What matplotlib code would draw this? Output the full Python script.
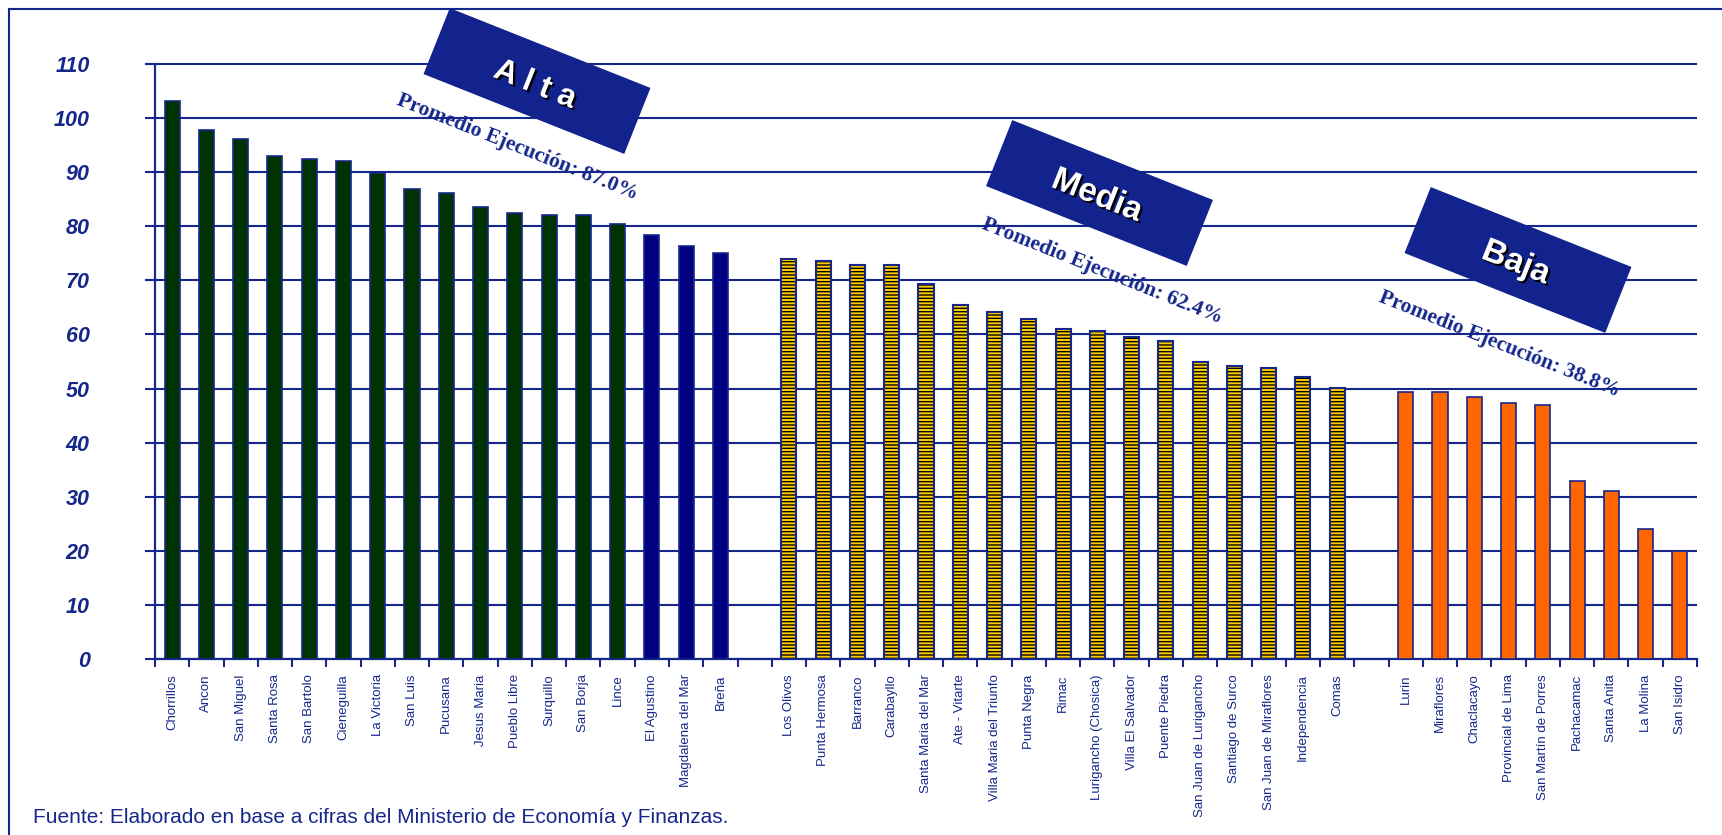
import matplotlib
matplotlib.use('Agg')
import matplotlib.pyplot as plt
from matplotlib.transforms import Affine2D
from matplotlib.patches import Rectangle
from matplotlib.lines import Line2D
import matplotlib.patheffects as pe
import numpy as np

# ---------------- data ----------------
alta_names = ['Chorrillos', 'Ancon', 'San Miguel', 'Santa Rosa', 'San Bartolo', 'Cieneguilla',
              'La Victoria', 'San Luis', 'Pucusana', 'Jesus Maria', 'Pueblo Libre', 'Surquillo',
              'San Borja', 'Lince', 'El Agustino', 'Magdalena del Mar', 'Breña']
alta_values = [103.1, 97.8, 96.2, 93.0, 92.5, 92.1, 89.9, 86.9, 86.1, 83.6, 82.4, 82.0,
               82.0, 80.4, 78.3, 76.3, 75.1]
media_names = ['Los Olivos', 'Punta Hermosa', 'Barranco', 'Carabayllo', 'Santa Maria del Mar',
               'Ate - Vitarte', 'Villa Maria del Triunfo', 'Punta Negra', 'Rimac',
               'Lurigancho (Chosica)', 'Villa El Salvador', 'Puente Piedra',
               'San Juan de Lurigancho', 'Santiago de Surco', 'San Juan de Miraflores',
               'Independencia', 'Comas']
media_values = [73.9, 73.5, 72.9, 72.9, 69.4, 65.4, 64.1, 62.9, 61.1, 60.7, 59.5, 58.7,
                55.0, 54.2, 53.8, 52.2, 50.1]
baja_names = ['Lurin', 'Miraflores', 'Chaclacayo', 'Provincial de Lima', 'San Martín de Porres',
              'Pachacamac', 'Santa Anita', 'La Molina', 'San Isidro']
baja_values = [49.3, 49.3, 48.5, 47.3, 46.9, 32.9, 31.1, 24.0, 19.9]
group_titles = ['A l t a', 'Media', 'Baja']
group_averages = [87.0, 62.4, 38.8]
y_ticks = [0, 10, 20, 30, 40, 50, 60, 70, 80, 90, 100, 110]
footer = 'Fuente: Elaborado en base a cifras del Ministerio de Economía y Finanzas.'

# ---------------- style ----------------
W, H, DPI = 1722, 835, 100
BLUE = '#16278C'
BOXC = '#12238D'
GREEN = '#003300'
NAVY = '#000080'
YELLOW = '#FFCC00'
ORANGE = '#FF6600'
N_NAVY = 3
BW = 0.44
plt.rcParams['hatch.linewidth'] = 1.0

fig = plt.figure(figsize=(W / DPI, H / DPI), dpi=DPI)
x0, x1, y0 = 155, 1697, 659
unit = (659 - 64) / 110.0
ytop = y0 - 111 * unit
ax = fig.add_axes([x0 / W, 1 - y0 / H, (x1 - x0) / W, (y0 - ytop) / H])

pos_alta = np.arange(len(alta_names))
pos_media = pos_alta[-1] + 2 + np.arange(len(media_names))
pos_baja = pos_media[-1] + 2 + np.arange(len(baja_names))

alta_colors = [GREEN] * (len(alta_names) - N_NAVY) + [NAVY] * N_NAVY
ax.bar(pos_alta, alta_values, width=BW, color=alta_colors, edgecolor=BLUE, linewidth=1.2, zorder=3)
ax.bar(pos_media, media_values, width=BW, color=YELLOW, edgecolor='black', hatch='-----',
       linewidth=0, zorder=3)
ax.bar(pos_media, media_values, width=BW, fill=False, edgecolor=BLUE, linewidth=1.5, zorder=4)
ax.bar(pos_baja, baja_values, width=BW, color=ORANGE, edgecolor=BLUE, linewidth=1.2, zorder=3)

n_total = pos_baja[-1] + 1
ax.set_xlim(-0.5, n_total - 0.5)
ax.set_ylim(0, 111)
for s in ['top', 'right']:
    ax.spines[s].set_visible(False)
for s in ['left', 'bottom']:
    ax.spines[s].set_color(BLUE)
    ax.spines[s].set_linewidth(1.6)
ax.spines['left'].set_bounds(0, 110)

ax.set_yticks(y_ticks)
ax.set_yticklabels([str(v) for v in y_ticks], fontsize=15.5, fontweight='bold', fontstyle='italic',
                   family=['Liberation Sans', 'DejaVu Sans'], color=BLUE)
ax.tick_params(axis='y', direction='out', length=7, width=1.5, color=BLUE, pad=40)
ax.yaxis.grid(True, color=BLUE, linewidth=1.5)
ax.set_axisbelow(True)

all_labels = [''] * n_total
for p, n in zip(list(pos_alta) + list(pos_media) + list(pos_baja), alta_names + media_names + baja_names):
    all_labels[p] = n
ax.set_xticks(np.arange(n_total))
ax.set_xticklabels(all_labels, rotation=90, fontsize=9.5, color=BLUE,
                   family=['Liberation Sans Narrow', 'Liberation Sans', 'DejaVu Sans'])
ax.tick_params(axis='x', which='major', length=0, pad=11)
ax.set_xticks(np.arange(-0.5, n_total, 1.0), minor=True)
ax.tick_params(axis='x', which='minor', direction='out', length=6, width=1.5, color=BLUE)

# ---------------- annotations ----------------
ANG = -21.7
box_centers = [(537, 81), (1099.5, 193), (1518, 260)]
title_centers = [(535, 85), (1097, 196), (1516, 263)]
title_sizes = [23, 24, 24]
avg_centers = [(517, 147), (1102, 271), (1499, 344)]
for i in range(3):
    cx, cy = box_centers[i]
    tr = Affine2D().rotate_deg(ANG).translate(cx, H - cy).scale(1.0 / DPI) + fig.dpi_scale_trans
    fig.add_artist(Rectangle((-108, -35.5), 216, 71, transform=tr, facecolor=BOXC,
                             edgecolor='none', zorder=10))
    tx, ty = title_centers[i]
    fig.text(tx / W, 1 - ty / H, group_titles[i], rotation=ANG, rotation_mode='anchor',
             ha='center', va='center', fontsize=title_sizes[i], fontweight='bold', color='white',
             family=['Liberation Sans', 'DejaVu Sans'], zorder=11,
             path_effects=[pe.SimplePatchShadow(offset=(1.5, -1.5), shadow_rgbFace='black', alpha=1.0),
                           pe.Normal()])
    ax_, ay_ = avg_centers[i]
    fig.text(ax_ / W, 1 - ay_ / H, 'Promedio Ejecución: %.1f%%' % group_averages[i],
             rotation=ANG, rotation_mode='anchor', ha='center', va='center', fontsize=15.5,
             fontweight='bold', color=BLUE, family=['Liberation Serif', 'DejaVu Serif'], zorder=12)

fig.text(33 / W, 1 - 823 / H, footer, fontsize=15, color=BLUE, va='baseline',
         family=['Liberation Sans', 'DejaVu Sans'])

fig.add_artist(Line2D([9 / W, 9 / W], [0, 1 - 9 / H], color=BLUE, linewidth=1.5, zorder=1))
fig.add_artist(Line2D([9 / W, 1], [1 - 9 / H, 1 - 9 / H], color=BLUE, linewidth=1.5, zorder=1))

fig.savefig('out.png', dpi=DPI)
